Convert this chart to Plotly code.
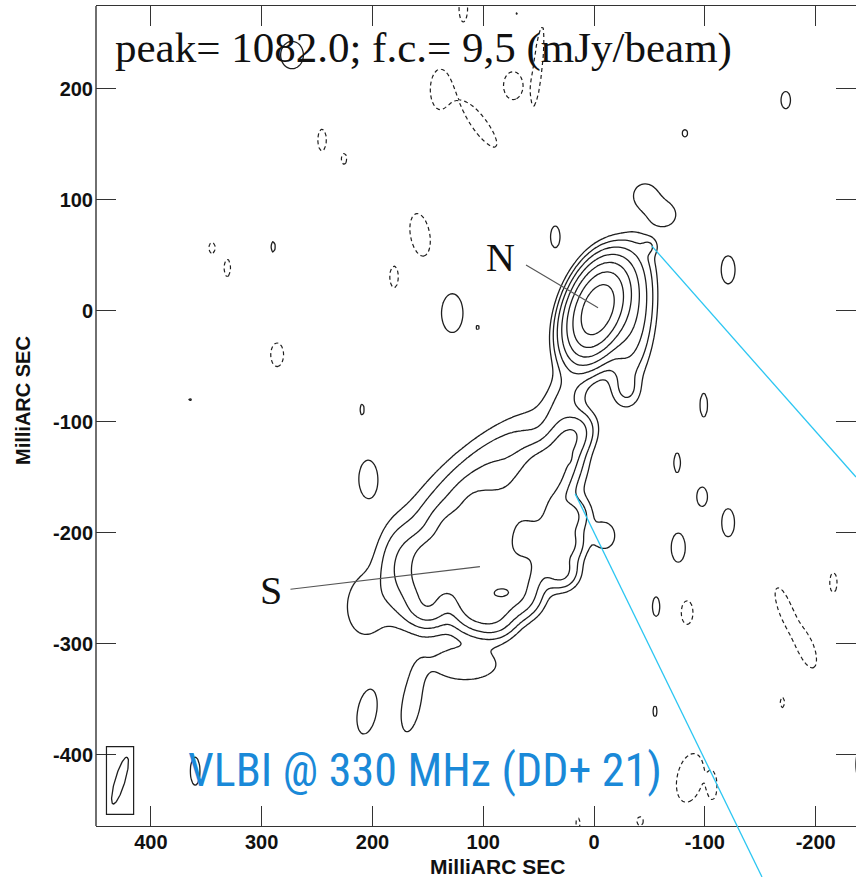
import numpy as np
import plotly.graph_objects as go

# ---------------- data (mas, amplitudes in units of the first contour) -------------
PEAK_MJY = 1082.0
FC_MJY = 9.5
LEVELS = [1, 2, 4, 8, 16, 32, 64]            # contour multiples of f.c.

# extended source components: x (mas), y (mas), amplitude (f.c.), sigma major, sigma minor, PA (deg)
# --- northern component N and neck
n_x    = [-3,   -33,  -50,  27,   -30]
n_y    = [1,    -3,   58,   -82,  -72]
n_amp  = [110,  7,    1.4,  1.9,  1.5]
n_smaj = [22.5, 35,   5,    25,   10]
n_smin = [12.5, 12,   5,    11,   8]
n_pa   = [-20,  -5,   0,    -15,  0]

# --- southern component S: bright plateau
s_x    = [22,   32,   50,   40,   62,   55,   80,   102,  85,   105,  127,  88,   110,  132,  150,  65,   88,   110,  132,  152,  68,   90,   112,  150,  90,   108]
s_y    = [-115, -135, -140, -155, -158, -175, -175, -178, -195, -195, -198, -215, -215, -218, -222, -235, -235, -235, -238, -242, -257, -257, -255, -265, -275, -270]
s_amp  = [8,    6,    6,    6,    6,    6,    6,    6,    6,    6,    6,    6,    6,    6,    6,    6,    6,    6,    6,    6,    6,    6,    6,    6,    6,    6]
s_smaj = [14,   12,   12,   12,   12,   12,   12,   12,   12,   12,   12,   12,   12,   12,   12,   12,   12,   12,   12,   12,   12,   12,   12,   12,   12,   12]
s_smin = [10,   12,   12,   12,   12,   12,   12,   12,   12,   12,   12,   12,   12,   12,   12,   12,   12,   12,   12,   12,   12,   12,   12,   12,   12,   12]
s_pa   = [-40] + [0] * 25

# --- S: fainter emission (notch fill, peaks, shelves, lobes, halo)
f_x    = [22,   25,   30,   48,   52,   24,   82,   110,  175,  208,  165,  115,  -10,  100]
f_y    = [-185, -210, -235, -195, -218, -132, -254, -160, -235, -268, -355, -320, -203, -200]
f_amp  = [4.5,  4.5,  4.5,  3.5,  3.5,  6,    6,    3.5,  2.5,  1.3,  1.6,  1.5,  1.5,  2.0]
f_smaj = [10,   10,   10,   12,   12,   3,    6,    50,   25,   22,   25,   25,   10,   70]
f_smin = [10,   10,   10,   12,   12,   2,    3.4,  16,   12,   14,   8,    12,   8,    45]
f_pa   = [0,    0,    0,    0,    0,    0,    90,   -45,  0,    0,    -10,  90,   0,    -45]

# noise islands (positive = solid, negative = dashed)
noise_x    = [272.6, 245.5, 225.6, 157,  180.5, 344.8, 331, 289.7, 286,   364.6, 209.4, 118, 139, 73,  50.5,  103,  -173, -82, -46,   -64,  35,   -121, 128, 105, -99, -75,  -97.5, -121, -76,    -56,    -84,  -216, -172, -192, -170, -55,  -86.6, -107, -246, 14.4, -41.5, -242, 204,  205,  360,  69.5]
noise_y    = [230.6, 154,   137,   68.5, 30.6,  56.8,  38.7, 57.7, -39.6, -80,   -89,   272, 199, 203, 221.6, 167.6, 190,  160, 104.5, 86.5, 66.7, 37,   -2,  -15, -85, -137, -167.6, -191, -213.5, -266.7, -272, -245, -268, -305, -353, -361, -421,  -429, -409, -462, -460,  -124, -151, -362, -415, 268]
noise_amp  = [1.7,   -1.6,  -1.6,  -1.6, -1.6,  -1.6,  -1.6, 1.6,  -1.6,  1.1,   1.6,   -1.6, -1.6, -1.6, -1.6, -1.6, 1.6,  1.6, 1.45,  1.45, 1.6,  1.6,  1.6, 1.3, 1.6, 1.6,  1.6,    1.6,  1.6,    1.6,    -1.6, -1.6, -1.6, -1.6, -1.6, 1.6,  -1.6,  -1.6, 1.6,  -1.6, -1.6,  -1.6, 1.6,  1.6,  1.6,  1.2]
noise_smaj = [12,    10,    5,     20,   10,    5,     8,    5,    11,    3,     5,     12,  18,  13,  36,    25,   8,    3.5, 11,    11,   10,   13,   18,  3,   11,  9,    9,      13,   13.5,   9,      11,   9,    20,   18,   5,    5,    23,    10,   22,   5,    4,     12,   16,   20,   13,   2]
noise_smin = [10,    4,     2.5,   9,    4,     3,     3,    2,    6,     3,     2,     4,   9,   9,   4,     7,    4.5,  2.5, 11,    11,   4.5,  6.5,  10,  1.5, 3.5, 3,    5,      6,    6.5,    3.5,    5.5,  3.5,  6,    7,    2,    2,    12,    3.5,  10,   2,    3,     5,    8,    8.5,  4.5,  1.5]
noise_pa   = [0,     0,     0,     10,   0,     0,     0,    0,    0,     0,     0,     0,   0,   0,   -6,    36,   0,    0,   0,     0,    0,    0,    0,   0,   0,   0,    0,      0,    0,      0,      0,    0,    20,   20,   0,    0,    -12,   0,    0,    0,    0,     0,    0,    -10,  0,    0]

# restoring beam
beam_x, beam_y = 427.8, -423.4
beam_smaj, beam_smin, beam_pa = 22.0, 4.5, -16.6
beam_box_w, beam_box_h = 24.5, 61.0

# axis extents (mas)
X_RANGE = [449.5, -236.4]
Y_RANGE = [-464.4, 274.8]
x_ticks = [400, 300, 200, 100, 0, -100, -200]
y_ticks = [200, 100, 0, -100, -200, -300, -400]

# ---------------- build the map ----------------
xs = np.arange(-250, 458, 2.0)
ys = np.arange(-472, 282, 2.0)
X, Y = np.meshgrid(xs, ys)


def gauss(x0, y0, amp, smaj, smin, pa):
    p = np.radians(pa)
    dx, dy = X - x0, Y - y0
    u = dx * np.sin(p) + dy * np.cos(p)
    v = dx * np.cos(p) - dy * np.sin(p)
    return amp * np.exp(-0.5 * (u ** 2 / smaj ** 2 + v ** 2 / smin ** 2))


field = np.zeros_like(X)
for group in [(n_x, n_y, n_amp, n_smaj, n_smin, n_pa),
              (s_x, s_y, s_amp, s_smaj, s_smin, s_pa),
              (f_x, f_y, f_amp, f_smaj, f_smin, f_pa),
              (noise_x, noise_y, noise_amp, noise_smaj, noise_smin, noise_pa)]:
    for c in zip(*group):
        field += gauss(*c)

pos = np.log2(np.where(field > 1e-4, field, 1e-4))
neg = np.log2(np.where(-field > 1e-4, -field, 1e-4))

line_col = "#1e1e1e"
fig = go.Figure()
fig.add_trace(go.Contour(
    x=xs, y=ys, z=pos, autocontour=False,
    contours=dict(start=np.log2(LEVELS[0]), end=np.log2(LEVELS[-1]), size=1, coloring="lines"),
    colorscale=[[0, line_col], [1, line_col]], showscale=False,
    line=dict(width=1.3), hoverinfo="skip"))
fig.add_trace(go.Contour(
    x=xs, y=ys, z=neg, autocontour=False,
    contours=dict(start=0, end=0.5, size=1, coloring="lines"),
    colorscale=[[0, line_col], [1, line_col]], showscale=False,
    line=dict(width=1.2, dash="4px,3px"), hoverinfo="skip"))

# beam ellipse
t = np.linspace(0, 2 * np.pi, 100)
pb = np.radians(beam_pa)
bu, bv = beam_smaj * np.cos(t), beam_smin * np.sin(t)
fig.add_trace(go.Scatter(
    x=beam_x + bu * np.sin(pb) + bv * np.cos(pb),
    y=beam_y + bu * np.cos(pb) - bv * np.sin(pb),
    mode="lines", line=dict(color=line_col, width=1.3), hoverinfo="skip", showlegend=False))

W, H = 856, 877
ML, MR, MT, MB = 96, 0, 6, 51
PW, PH = W - ML - MR, H - MT - MB


def px_to_paper(px, py):
    return (px - ML) / PW, (H - MB - py) / PH


def data_to_paper(x, y):
    fx = (x - X_RANGE[0]) / (X_RANGE[1] - X_RANGE[0])
    fy = (y - Y_RANGE[0]) / (Y_RANGE[1] - Y_RANGE[0])
    return fx, fy


shapes = []
shapes.append(dict(type="rect", xref="x", yref="y",
                   x0=beam_x - beam_box_w / 2, x1=beam_x + beam_box_w / 2,
                   y0=beam_y - beam_box_h / 2, y1=beam_y + beam_box_h / 2,
                   line=dict(color=line_col, width=1.2)))
shapes.append(dict(type="line", xref="paper", yref="paper", x0=0, x1=0, y0=0, y1=1,
                   line=dict(color="#333", width=1.4)))
shapes.append(dict(type="line", xref="x", yref="y", x0=61.4, y0=41.4, x1=-3.6, y1=2.7,
                   line=dict(color="#555", width=1.1)))
shapes.append(dict(type="line", xref="x", yref="y", x0=274, y0=-251, x1=103, y1=-230.6,
                   line=dict(color="#555", width=1.1)))
c1a = data_to_paper(-52, 58.6)
c1b = px_to_paper(856, 477)
c2a = data_to_paper(17, -165)
c2b = px_to_paper(762, 877)
cyan = "#2cc6f2"
shapes.append(dict(type="line", xref="paper", yref="paper", x0=c1a[0], y0=c1a[1], x1=c1b[0], y1=c1b[1],
                   line=dict(color=cyan, width=1.3)))
shapes.append(dict(type="line", xref="paper", yref="paper", x0=c2a[0], y0=c2a[1], x1=c2b[0], y1=c2b[1],
                   line=dict(color=cyan, width=1.3)))

annotations = [
    dict(text=f"peak= {PEAK_MJY:.1f}; f.c.= {str(FC_MJY).replace('.', ',')} (mJy/beam)",
         x=px_to_paper(423, 48)[0], y=px_to_paper(423, 48)[1], xref="paper", yref="paper",
         showarrow=False, xanchor="center", yanchor="middle",
         font=dict(family="Liberation Serif", size=43, color="#111")),
    dict(text="N", x=84, y=47.7, xref="x", yref="y", showarrow=False,
         font=dict(family="Liberation Serif", size=40, color="#111")),
    dict(text="S", x=292, y=-252, xref="x", yref="y", showarrow=False,
         font=dict(family="Liberation Serif", size=40, color="#111")),
    dict(text="VLBI @ 330 MHz (DD+ 21)", x=px_to_paper(425, 770)[0], y=px_to_paper(425, 770)[1],
         xref="paper", yref="paper", showarrow=False, xanchor="center", yanchor="middle",
         font=dict(family="Liberation Sans Narrow, Roboto Condensed, Arial Narrow, sans-serif", size=46, color="#1a89d8")),
    dict(text="MilliARC SEC", x=px_to_paper(497, 866)[0], y=px_to_paper(497, 866)[1],
         xref="paper", yref="paper", showarrow=False, xanchor="center", yanchor="middle",
         font=dict(family="Liberation Sans", size=21, color="#111", weight="bold")),
    dict(text="MilliARC SEC", x=px_to_paper(23, 401)[0], y=px_to_paper(23, 401)[1],
         xref="paper", yref="paper", showarrow=False, xanchor="center", yanchor="middle", textangle=-90,
         font=dict(family="Liberation Sans", size=20, color="#111", weight="bold")),
]

tickfont = dict(family="Liberation Sans", size=20, color="#111", weight="bold")
fig.update_layout(
    width=W, height=H, margin=dict(l=ML, r=MR, t=MT, b=MB),
    paper_bgcolor="white", plot_bgcolor="white", showlegend=False,
    shapes=shapes, annotations=annotations,
    xaxis=dict(range=X_RANGE, tickvals=x_ticks, ticktext=[str(v) for v in x_ticks],
               ticks="inside", ticklen=20, tickwidth=1.3, tickcolor="#333",
               showline=True, linecolor="#333", linewidth=1.4, mirror="ticks",
               showgrid=False, zeroline=False, tickfont=tickfont, ticklabelstandoff=-2),
    yaxis=dict(range=Y_RANGE, tickvals=y_ticks, ticktext=[str(v) for v in y_ticks],
               ticks="inside", ticklen=20, tickwidth=1.3, tickcolor="#333",
               showline=False, mirror="ticks",
               showgrid=False, zeroline=False, tickfont=tickfont, ticklabelstandoff=2),
)

fig.write_html("out.html")
